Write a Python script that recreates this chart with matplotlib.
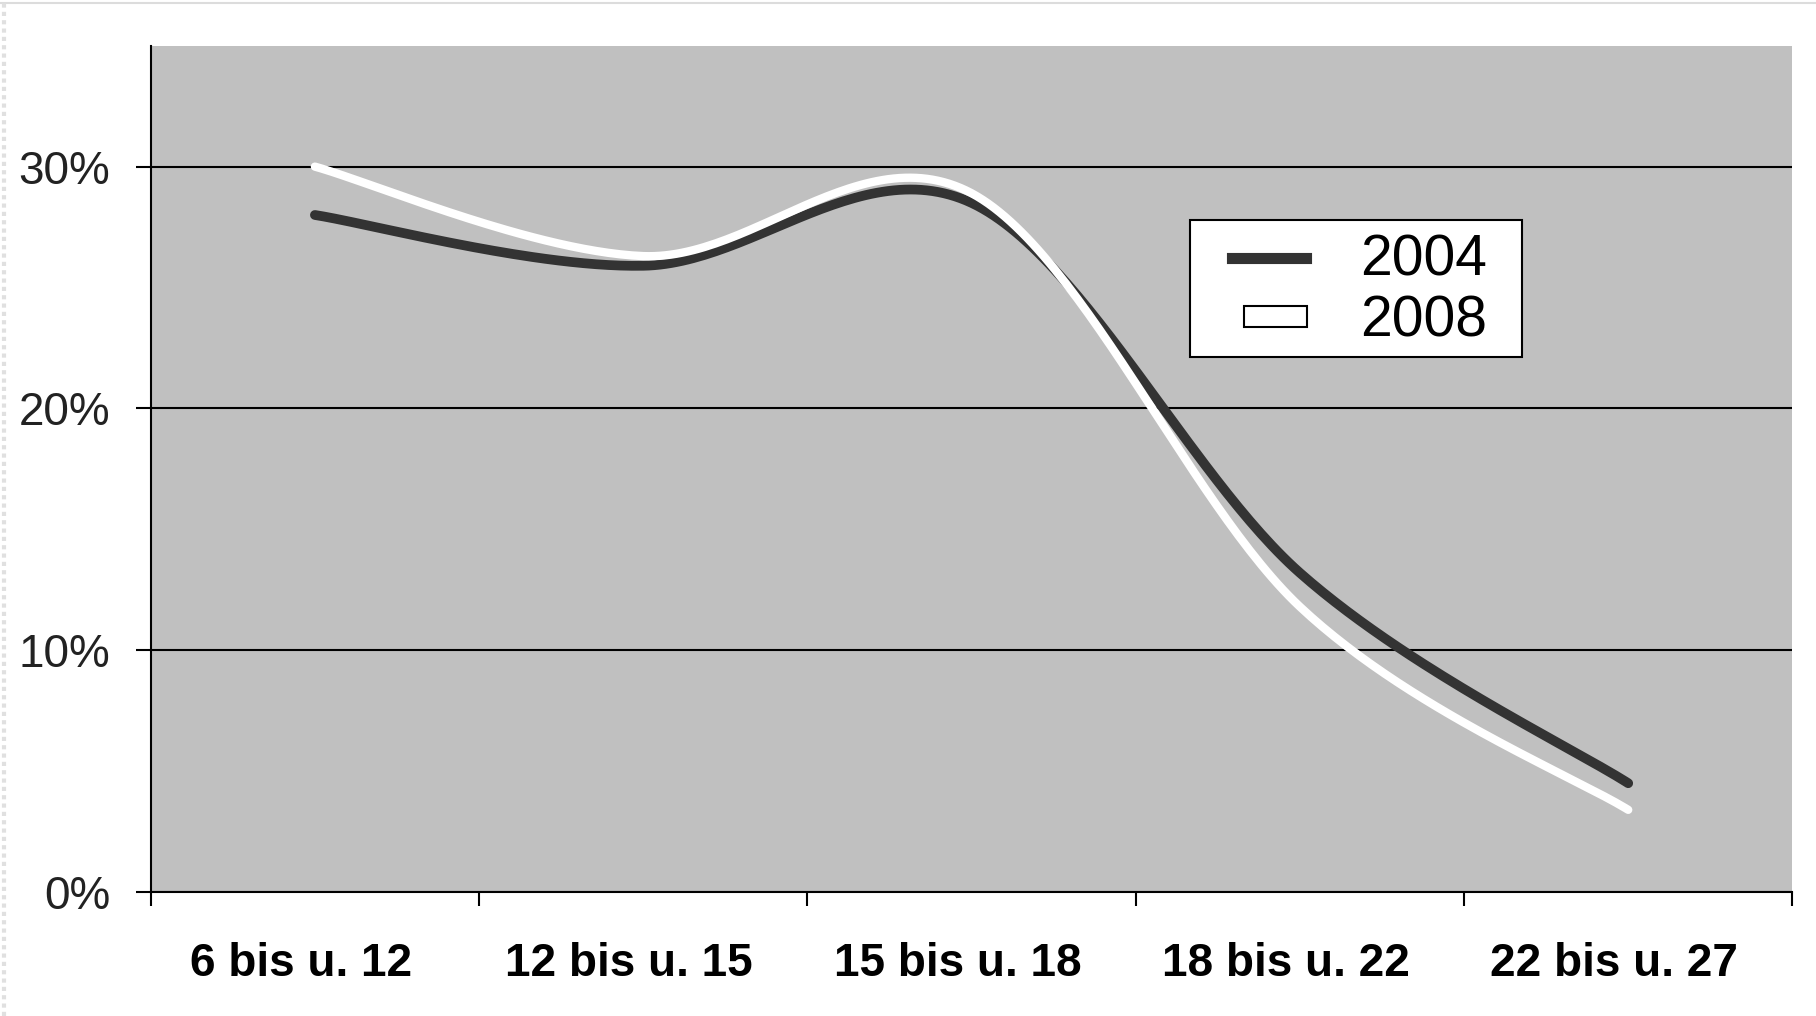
import numpy as np
import matplotlib.pyplot as plt
import matplotlib.transforms as mtransforms
from matplotlib.patches import Patch, Rectangle
from matplotlib.lines import Line2D
from matplotlib.legend_handler import HandlerPatch

categories = ["6 bis u. 12", "12 bis u. 15", "15 bis u. 18", "18 bis u. 22", "22 bis u. 27"]
values_2004 = [28.0, 25.9, 28.5, 13.2, 4.5]
values_2008 = [30.0, 26.3, 28.9, 11.8, 3.4]
y_ticks = [0, 10, 20, 30]


def smooth(xs, ys, n=60):
    # Excel-artige Glättung (Catmull-Rom als Bezier)
    p = np.column_stack([xs, ys]).astype(float)
    p = np.vstack([p[0], p, p[-1]])
    out = []
    for i in range(1, len(p) - 2):
        p0, p1, p2, p3 = p[i - 1], p[i], p[i + 1], p[i + 2]
        b1 = p1 + (p2 - p0) / 6.0
        b2 = p2 - (p3 - p1) / 6.0
        t = np.linspace(0, 1, n)[:, None]
        seg = ((1 - t) ** 3) * p1 + 3 * ((1 - t) ** 2) * t * b1 + 3 * (1 - t) * t ** 2 * b2 + t ** 3 * p2
        out.append(seg if i == 1 else seg[1:])
    out = np.vstack(out)
    return out[:, 0], out[:, 1]


def small_box(legend, orig_handle, xdescent, ydescent, width, height, fontsize):
    # kleineres, rechtsbündiges Kästchen wie im Original
    w = width * 0.85
    h = height * 0.62
    return Rectangle((width - w - xdescent + 1, -ydescent + (height - h) / 2), w, h)


plt.rcParams["font.family"] = ["Liberation Sans", "DejaVu Sans"]

fig = plt.figure(figsize=(18.16, 10.16), dpi=100)
ax = fig.add_axes([0.083, 0.122, 0.904, 0.833])
ax.set_facecolor("#c0c0c0")

# dezenter Rahmen wie im Screenshot
fig.add_artist(Line2D([0, 1], [0.997, 0.997], transform=fig.transFigure, color="#dcdcdc", lw=1.5))
fig.add_artist(Line2D([0.002, 0.002], [0, 1], transform=fig.transFigure, color="#e0e0e0",
                      lw=3, linestyle=(0, (1, 1))))

x = np.arange(len(categories))
xs, ys = smooth(x, values_2004)
ax.plot(xs, ys, color="#333333", lw=7, solid_capstyle="round", zorder=3)
xs, ys = smooth(x, values_2008)
ax.plot(xs, ys, color="white", lw=6, solid_capstyle="round", zorder=4)

ax.set_xlim(-0.5, len(categories) - 0.5)
ax.set_ylim(0, 35)
ax.set_yticks(y_ticks)
ax.set_yticklabels([f"{v}%" for v in y_ticks], fontsize=33, color="#222222")
ax.yaxis.grid(True, color="black", lw=1.5)
ax.set_axisbelow(True)

ax.set_xticks(np.arange(len(categories) + 1) - 0.5)
ax.set_xticklabels([])
ax.set_xticks(x, minor=True)
ax.set_xticklabels(categories, minor=True, fontsize=33, fontweight="bold")
ax.tick_params(axis="x", which="minor", length=0, pad=36)
ax.tick_params(axis="x", which="major", length=10, width=1.5, direction="out")
ax.tick_params(axis="y", length=11, width=1.5, pad=18)
shift = mtransforms.ScaledTranslation(-14 / 100, 0, fig.dpi_scale_trans)
for lab in ax.get_xticklabels(minor=True):
    lab.set_transform(lab.get_transform() + shift)

for side in ["top", "right"]:
    ax.spines[side].set_visible(False)
ax.spines["left"].set_linewidth(1.5)
ax.spines["bottom"].set_linewidth(1.5)

# Legendenrahmen separat, damit Breite/Höhe passen
ax.add_patch(Rectangle((0.633, 0.6325), 0.202, 0.1615, transform=ax.transAxes,
                       facecolor="white", edgecolor="black", lw=1.5, zorder=5))

handles = [
    Line2D([0], [0], color="#333333", lw=8),
    Patch(facecolor="white", edgecolor="black", lw=1.5),
]
leg = ax.legend(handles, ["2004", "2008"], loc="upper left", bbox_to_anchor=(0.643, 0.808),
                fontsize=41, frameon=False, handlelength=1.3,
                handleheight=0.5, handletextpad=0.95, borderpad=0.45, labelspacing=0.12,
                borderaxespad=0,
                handler_map={Patch: HandlerPatch(patch_func=small_box)})
leg.set_zorder(6)

fig.savefig("out.png", dpi=100)
